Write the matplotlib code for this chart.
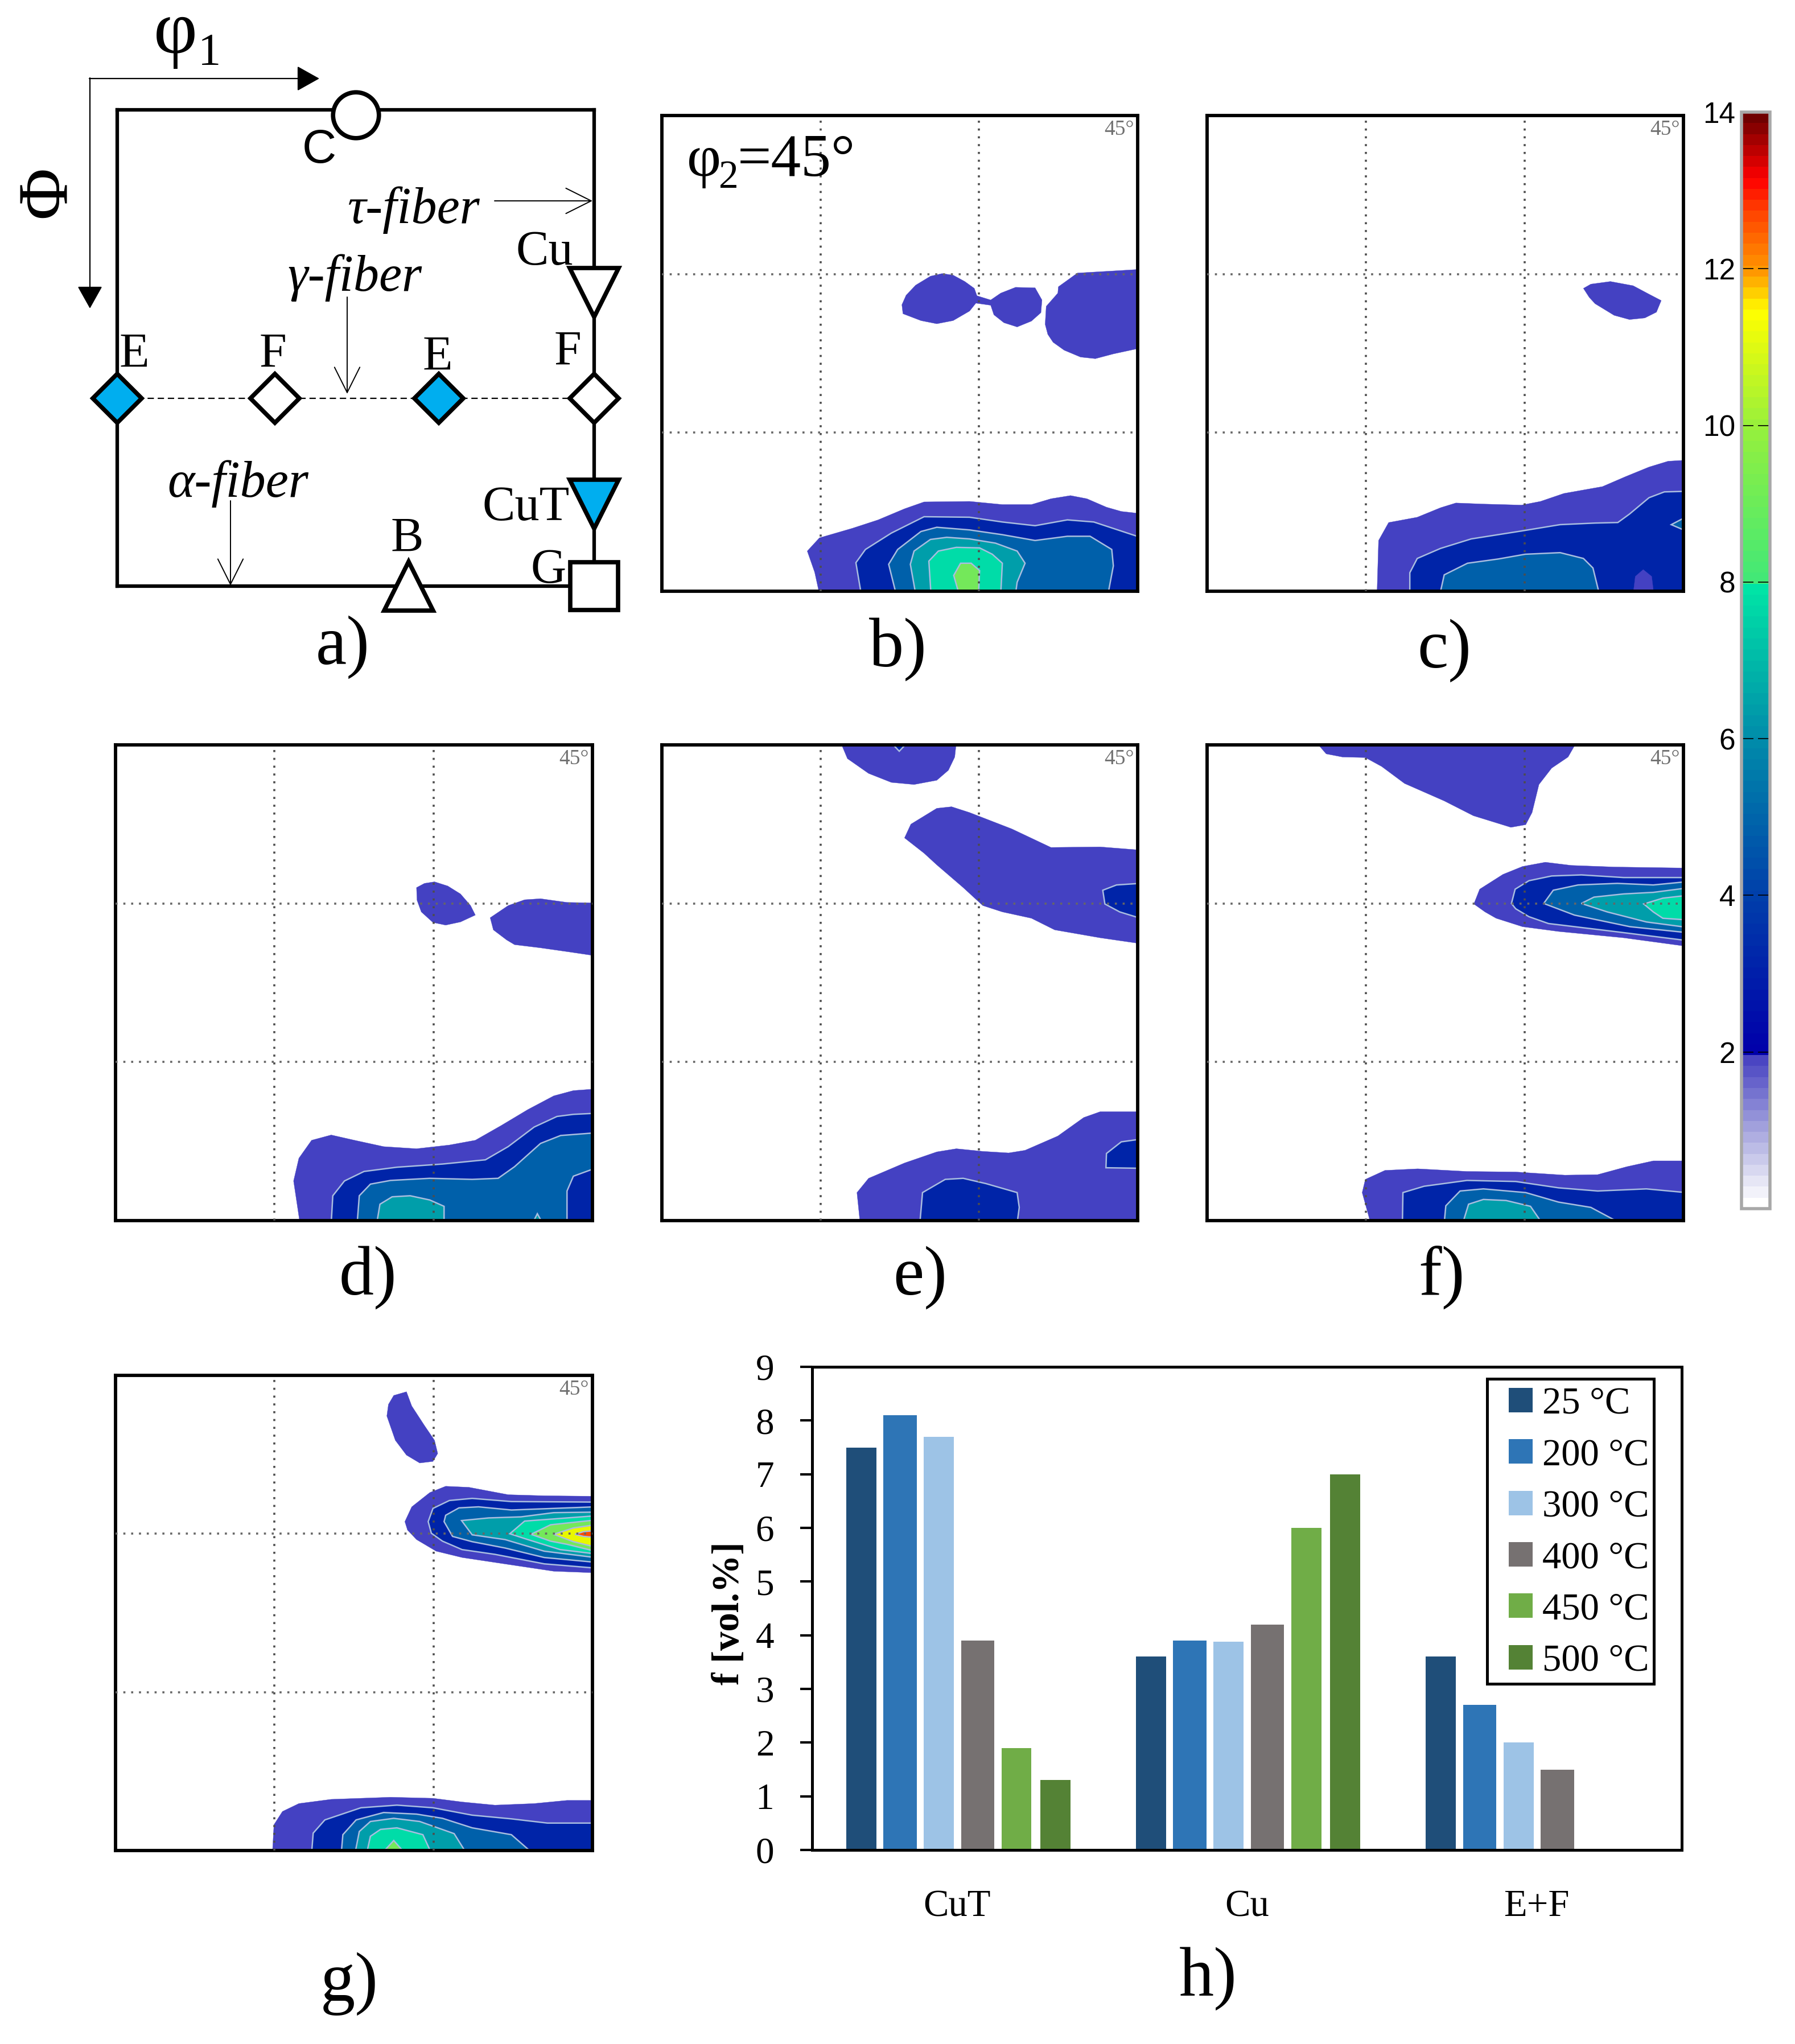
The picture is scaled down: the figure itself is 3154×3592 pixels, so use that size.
import numpy as np
import matplotlib
matplotlib.use("Agg")
import matplotlib.pyplot as plt
from matplotlib.cm import ScalarMappable
from matplotlib.colors import LinearSegmentedColormap, Normalize
from matplotlib.patches import Rectangle

plt.rcParams['font.family'] = ['Liberation Serif', 'DejaVu Serif']

W, H = 3154, 3592

# bar chart h), volume fractions
categories = ["CuT", "Cu", "E+F"]
temperatures = ["25 °C", "200 °C", "300 °C", "400 °C", "450 °C", "500 °C"]
f_25 = [7.5, 3.6, 3.6]
f_200 = [8.1, 3.9, 2.7]
f_300 = [7.7, 3.88, 2.0]
f_400 = [3.9, 4.2, 1.5]
f_450 = [1.9, 6.0, np.nan]
f_500 = [1.3, 7.0, np.nan]
bar_colors = ['#1f4e79', '#2e75b6', '#9dc3e6', '#767171', '#70ad47', '#548235']
bar_widths = [0.104, 0.115, 0.104, 0.115, 0.104, 0.104]

# ideal orientations in the phi2=45 section (phi1, Phi)
ori_open = {"C": (45, 1), "F1": (29.7, 54.5), "F2": (90, 54.5), "G": (90, 90)}
ori_E = [(0, 54.5), (60.7, 54.5)]
ori_Cu = (90, 34.5)
ori_CuT = (90, 74.5)
ori_B = (55, 90)

# contour colours, intensity level 1 upwards
level_colors = {1: '#4441c2', 2: '#0024a8', 3: '#0060aa', 4: '#009eaa',
                5: '#00dca8', 6: '#74e85a', 7: '#e8f800', 8: '#ff4a00'}

# ODF sections: (level, outline in phi1, Phi degrees)
panel_b = [
    (1, [(45.4, 35.8), (46.2, 34.0), (48.0, 32.1), (50.8, 30.4), (53.0, 29.9), (55.1, 30.2), (57.3, 31.4),
         (59.1, 32.7), (59.6, 34.1), (62.2, 34.9), (64.1, 33.6), (66.9, 32.5), (70.6, 32.6), (71.9, 34.9),
         (71.7, 37.3), (69.9, 38.9), (67.2, 40.0), (64.7, 39.2), (62.8, 37.7), (62.2, 35.9), (59.4, 35.5),
         (58.2, 37.0), (55.1, 38.8), (52.0, 39.4), (49.0, 38.8), (45.6, 37.5)]),
    (1, [(72.5, 39.5), (72.7, 36.1), (74.9, 33.6), (75.0, 32.4), (78.6, 29.8), (90.5, 29.1), (90.5, 44.0),
         (85.4, 45.1), (82.0, 46.0), (79.2, 45.7), (76.1, 44.4), (74.0, 42.9), (73.0, 41.4)]),
    (1, [(29.8, 90.5), (28.9, 86.4), (27.5, 82.4), (29.8, 79.9), (36.0, 78.1), (40.9, 76.5), (45.9, 74.4),
         (49.6, 73.1), (58.2, 73.0), (64.4, 73.6), (69.9, 73.6), (73.6, 72.5), (77.3, 71.9), (80.4, 72.5),
         (84.1, 74.1), (86.9, 74.9), (90.5, 75.3), (90.5, 90.5)]),
    (2, [(37.7, 90.5), (36.7, 84.6), (38.5, 82.1), (43.4, 79.0), (49.6, 75.9), (58.2, 76.0), (64.4, 76.9),
         (70.6, 77.6), (76.7, 76.5), (81.7, 76.9), (90.5, 79.8), (90.5, 90.5)]),
    (3, [(44.3, 90.5), (42.9, 84.9), (44.6, 82.1), (49.0, 78.7), (52.0, 77.9), (58.2, 78.4), (64.4, 79.3),
         (70.6, 80.4), (76.7, 79.6), (81.0, 79.6), (85.1, 82.1), (85.4, 85.2), (84.4, 90.5)]),
    (4, [(48.0, 90.5), (47.0, 84.9), (47.7, 82.4), (50.8, 80.2), (53.9, 79.8), (58.2, 80.1), (63.1, 80.9),
         (67.2, 82.4), (68.7, 84.7), (67.2, 88.3), (66.9, 90.5)]),
    (5, [(50.9, 90.5), (50.5, 84.3), (52.3, 82.4), (55.7, 81.7), (60.1, 81.8), (62.5, 83.0), (64.4, 84.7),
         (64.1, 90.5)]),
    (6, [(56.2, 90.5), (55.2, 87.0), (56.5, 84.7), (58.5, 84.7), (60.1, 86.1), (59.9, 90.5)]),
]

panel_c = [
    (1, [(71.1, 32.7), (72.5, 31.9), (76.2, 31.4), (80.5, 32.2), (83.5, 33.8), (85.8, 35.0), (84.9, 37.2),
         (82.7, 38.3), (79.8, 38.6), (76.9, 37.8), (73.3, 35.6), (72.2, 34.4)]),
    (1, [(32.1, 90.5), (32.4, 80.4), (34.3, 77.0), (39.7, 76.0), (44.1, 74.2), (47.0, 73.3), (52.1, 73.5),
         (59.4, 73.7), (63.0, 73.0), (67.4, 71.5), (74.7, 70.2), (79.1, 68.3), (83.5, 66.5), (87.1, 65.4),
         (90.5, 65.2), (90.5, 90.5)]),
    (2, [(38.3, 90.5), (38.3, 86.5), (39.7, 83.8), (44.1, 81.9), (49.9, 80.1), (59.4, 78.6), (66.7, 77.4),
         (73.3, 77.1), (77.6, 77.0), (79.8, 75.4), (83.5, 72.3), (86.4, 71.2), (90.5, 71.1), (90.5, 90.5)]),
    (3, [(44.0, 90.5), (44.8, 86.9), (49.2, 84.7), (55.0, 83.9), (60.1, 83.0), (66.7, 82.7), (71.1, 83.8),
         (72.9, 85.6), (74.1, 90.5)]),
    (3, [(87.7, 77.4), (89.8, 76.3), (90.5, 76.3), (90.5, 78.4), (89.8, 78.3)]),
    (1, [(80.5, 90.5), (80.9, 87.2), (82.4, 85.9), (84.0, 87.2), (84.4, 90.5)]),
]

panel_d = [
    (1, [(56.8, 27.0), (58.3, 26.2), (60.2, 25.9), (62.7, 26.7), (65.1, 28.2), (67.0, 30.4), (67.9, 32.2),
         (65.1, 33.5), (62.3, 34.1), (59.9, 33.6), (57.7, 31.6), (56.9, 29.4)]),
    (1, [(70.7, 32.7), (74.1, 30.4), (77.2, 29.3), (80.2, 29.1), (85.2, 29.8), (90.5, 29.9), (90.5, 39.9),
         (85.8, 39.2), (80.2, 38.4), (75.3, 37.8), (73.8, 36.9), (71.3, 35.0)]),
    (1, [(34.8, 90.5), (33.6, 82.5), (34.6, 78.2), (37.0, 74.8), (40.7, 73.8), (45.1, 74.8), (50.6, 76.0),
         (56.8, 76.4), (63.0, 75.7), (67.9, 74.8), (72.8, 72.0), (77.8, 69.0), (82.7, 66.4), (86.4, 65.4),
         (90.5, 65.1), (90.5, 90.5)]),
    (2, [(40.7, 90.5), (41.0, 85.3), (43.2, 82.5), (46.9, 80.7), (53.1, 79.9), (61.7, 79.3), (69.8, 78.5),
         (74.1, 76.0), (79.0, 72.3), (83.3, 70.3), (86.4, 69.9), (90.5, 69.7), (90.5, 90.5)]),
    (3, [(45.6, 90.5), (46.0, 85.3), (48.1, 83.1), (51.9, 82.4), (59.3, 82.0), (67.3, 82.2), (72.2, 82.0),
         (75.3, 79.8), (80.2, 75.4), (84.0, 73.9), (90.5, 73.4), (90.5, 90.5)]),
    (4, [(49.3, 90.5), (49.9, 86.9), (52.2, 85.5), (55.6, 85.3), (59.3, 86.1), (62.0, 87.3), (62.0, 90.5)]),
    (2, [(85.2, 90.5), (85.2, 84.4), (86.4, 81.6), (90.5, 80.1), (90.5, 90.5)]),
    (4, [(78.7, 90.5), (79.6, 88.7), (80.6, 90.5)]),
]

panel_e = [
    (1, [(33.8, -0.5), (35.1, 2.6), (39.1, 5.4), (43.4, 7.1), (47.7, 7.5), (52.0, 6.7), (54.2, 4.8),
         (55.4, 2.3), (55.7, -0.5)]),
    (2, [(43.3, -0.5), (44.9, 1.2), (46.5, -0.5)]),
    (1, [(45.9, 17.6), (47.1, 15.0), (52.0, 12.0), (54.8, 11.7), (58.2, 12.8), (66.2, 15.9), (73.6, 19.4),
         (82.9, 19.3), (90.5, 19.9), (90.5, 37.6), (82.9, 36.5), (74.3, 35.0), (69.9, 32.8), (64.4, 31.6),
         (60.7, 30.4), (57.0, 27.0), (52.0, 22.7), (49.6, 20.5)]),
    (2, [(83.4, 27.5), (86.0, 26.5), (90.5, 26.2), (90.5, 32.8), (86.6, 31.6), (83.8, 30.1)]),
    (1, [(37.5, 90.5), (36.9, 84.7), (39.1, 82.0), (45.9, 79.1), (52.0, 77.0), (55.7, 76.4), (60.7, 76.9),
         (65.6, 77.2), (68.7, 76.7), (74.9, 74.0), (79.8, 70.5), (82.9, 69.4), (90.5, 69.4), (90.5, 90.5)]),
    (2, [(48.8, 90.5), (49.3, 84.7), (53.6, 82.2), (57.0, 82.0), (61.3, 83.0), (67.2, 84.7), (67.6, 87.5),
         (67.2, 90.5)]),
    (2, [(84.0, 80.0), (84.1, 77.3), (86.9, 75.1), (90.5, 74.6), (90.5, 80.1)]),
]

panel_f = [
    (1, [(20.6, -0.5), (22.5, 1.7), (25.6, 2.3), (29.9, 2.4), (33.0, 4.1), (37.3, 7.3), (44.8, 10.6),
         (50.3, 13.4), (57.4, 15.6), (60.2, 15.1), (61.4, 12.8), (62.7, 7.5), (65.1, 4.4), (68.2, 2.3),
         (69.8, -0.5)]),
    (1, [(50.4, 30.1), (51.5, 27.3), (55.9, 24.5), (59.6, 23.0), (63.9, 22.2), (68.8, 22.8), (76.9, 23.1),
         (90.5, 23.3), (90.5, 38.1), (78.7, 36.5), (66.4, 35.3), (59.6, 34.4), (54.6, 32.8), (52.5, 31.6)]),
    (2, [(57.5, 30.0), (58.2, 27.3), (60.8, 25.7), (65.1, 24.8), (70.7, 24.6), (78.7, 25.1), (90.5, 25.1),
         (90.5, 37.0), (76.9, 35.3), (64.5, 33.8), (60.8, 32.5), (58.3, 31.0)]),
    (3, [(63.6, 30.0), (65.4, 27.5), (70.1, 26.5), (77.5, 26.2), (84.3, 26.5), (90.5, 25.9), (90.5, 35.5),
         (79.9, 34.4), (69.4, 32.2)]),
    (4, [(70.7, 30.0), (73.1, 28.8), (78.7, 28.2), (84.3, 27.9), (90.5, 27.1), (90.5, 34.5), (83.0, 33.5),
         (75.6, 31.6)]),
    (5, [(82.5, 30.1), (86.1, 29.0), (90.5, 28.5), (90.5, 33.1), (86.1, 32.8), (84.3, 31.6)]),
    (1, [(30.9, 90.5), (29.3, 84.7), (29.9, 82.2), (33.6, 80.5), (39.8, 80.2), (49.1, 80.7), (58.3, 80.8),
         (67.6, 81.4), (73.8, 81.3), (79.3, 79.8), (84.3, 78.7), (90.5, 78.7), (90.5, 90.5)]),
    (2, [(36.9, 90.5), (37.0, 84.7), (41.0, 83.5), (49.1, 82.4), (58.3, 82.6), (66.4, 83.8), (73.8, 84.4),
         (83.0, 84.0), (90.5, 84.7), (90.5, 90.5)]),
    (3, [(44.8, 90.5), (45.1, 87.2), (47.8, 84.4), (52.2, 84.0), (60.2, 84.7), (66.4, 86.5), (72.5, 87.5),
         (78.1, 90.5)]),
    (4, [(48.3, 90.5), (49.4, 86.9), (52.2, 86.0), (56.5, 86.2), (61.1, 87.3), (63.3, 90.5)]),
]

panel_g = [
    (1, [(52.5, 3.8), (54.9, 3.1), (55.9, 5.8), (58.3, 9.5), (60.2, 12.3), (60.8, 14.8), (59.9, 16.3),
         (57.4, 16.6), (54.9, 15.1), (52.8, 12.3), (51.2, 7.7), (51.5, 5.5)]),
    (1, [(54.6, 27.7), (55.9, 24.9), (59.3, 22.2), (62.3, 21.0), (66.7, 21.2), (74.1, 22.6), (80.9, 22.8),
         (90.5, 22.9), (90.5, 37.4), (82.7, 37.1), (74.7, 35.9), (65.4, 34.5), (60.5, 33.3), (56.8, 31.1),
         (55.1, 29.3)]),
    (2, [(59.0, 27.7), (59.9, 25.2), (63.0, 23.7), (67.3, 23.3), (74.7, 23.9), (90.5, 24.0), (90.5, 36.5),
         (80.9, 35.7), (71.6, 33.9), (65.4, 33.0), (61.7, 31.4), (59.6, 29.9)]),
    (3, [(62.0, 27.7), (62.3, 26.5), (64.8, 25.1), (68.5, 24.9), (74.7, 25.5), (90.5, 24.9), (90.5, 35.4),
         (80.9, 34.5), (73.5, 32.7), (67.3, 31.5), (63.6, 30.5)]),
    (4, [(65.3, 27.5), (70.4, 27.0), (76.5, 26.8), (82.7, 26.0), (90.5, 25.9), (90.5, 34.5), (80.9, 33.3),
         (73.5, 31.1), (67.3, 30.2)]),
    (5, [(74.4, 30.0), (77.2, 27.6), (83.9, 27.1), (90.5, 26.6), (90.5, 33.8), (83.9, 33.0), (77.8, 31.1)]),
    (6, [(78.4, 30.1), (82.1, 28.3), (90.5, 27.4), (90.5, 33.3), (85.2, 32.0), (82.1, 31.4)]),
    (7, [(82.7, 30.1), (86.4, 28.9), (90.5, 28.3), (90.5, 32.5), (86.4, 31.5)]),
    (8, [(86.7, 30.1), (88.3, 29.6), (90.5, 29.4), (90.5, 30.7), (88.3, 30.5)]),
    (1, [(29.6, 90.5), (29.9, 85.1), (31.5, 82.6), (34.6, 81.1), (40.7, 80.3), (51.9, 79.9), (59.9, 80.1),
         (65.4, 80.8), (71.6, 81.4), (79.0, 81.1), (85.2, 80.5), (90.5, 80.5), (90.5, 90.5)]),
    (2, [(37.0, 90.5), (37.3, 86.7), (39.5, 84.2), (46.3, 81.9), (53.1, 81.4), (59.9, 81.9), (67.3, 83.3),
         (74.7, 84.0), (81.5, 84.8), (90.5, 84.8), (90.5, 90.5)]),
    (3, [(42.6, 90.5), (42.9, 87.0), (45.4, 84.2), (50.6, 82.8), (56.8, 83.1), (61.7, 83.9), (67.3, 85.7),
         (74.7, 87.0), (78.7, 90.5)]),
    (4, [(45.2, 90.5), (46.0, 86.4), (48.1, 84.5), (52.5, 83.9), (57.4, 84.5), (63.9, 86.8), (66.2, 90.5)]),
    (5, [(47.4, 90.5), (48.1, 87.3), (50.0, 86.0), (53.1, 85.7), (58.0, 87.0), (59.6, 90.5)]),
    (6, [(50.3, 90.5), (52.5, 88.1), (54.6, 90.5)]),
]

# colour scale stops (value, colour)
scale_stops = [(0, '#ffffff'), (0.3, '#e4e4f4'), (1.0, '#a09fdc'), (1.97, '#3c37be'), (1.98, '#0000aa'),
               (4, '#0040aa'), (6, '#008caa'), (7.97, '#00e6a6'), (8.0, '#40e878'), (10, '#96f03c'),
               (11.5, '#ffff00'), (12, '#ff9a00'), (12.8, '#ff4000'), (13.2, '#ff0000'), (13.6, '#b80000'),
               (14, '#700000')]


def px_axes(x0, y0, x1, y1):
    return fig.add_axes([x0 / W, 1 - y1 / H, (x1 - x0) / W, (y1 - y0) / H])


def odf_panel(box, polygons):
    ax = px_axes(*box)
    ax.set_xlim(0, 90)
    ax.set_ylim(90, 0)
    for level, outline in polygons:
        edge = level_colors[level] if level == 1 else '#a9bde0'
        ax.fill(*zip(*outline), facecolor=level_colors[level], edgecolor=edge,
                linewidth=0.3 if level == 1 else 1.8, zorder=1)
    ax.set_xticks([30, 60])
    ax.set_yticks([30, 60])
    ax.tick_params(length=0, labelbottom=False, labelleft=False)
    ax.set_axisbelow(False)
    ax.xaxis.grid(True, color=(0.3, 0.3, 0.3, 0.3), linewidth=2.6, linestyle=(0, (1, 2.8)))
    ax.yaxis.grid(True, color=(0.4, 0.4, 0.4, 0.14), linewidth=2.6, linestyle=(0, (1, 2.8)))
    for sp in ax.spines.values():
        sp.set_linewidth(4.2)
    ax.text(0.992, 0.97, "45°", transform=ax.transAxes, ha='right', va='center', fontsize=27, color='#707070')
    return ax


fig = plt.figure(figsize=(W / 100, H / 100), dpi=100, facecolor='white')

# schematic a)
ax_a = px_axes(206, 193, 1044, 1030)
ax_a.set_xlim(0, 90)
ax_a.set_ylim(90, 0)
ax_a.set_xticks([])
ax_a.set_yticks([])
for sp in ax_a.spines.values():
    sp.set_linewidth(4.5)
ax_a.plot([0, 90], [54.5, 54.5], color='black', linewidth=1.6, linestyle=(0, (5, 3)), zorder=3)
mk = dict(linestyle='none', markeredgecolor='black', markeredgewidth=5.5, clip_on=False, zorder=5)
ax_a.plot(*ori_open["C"], marker='o', markersize=58, markerfacecolor='white', **mk)
for key in ["F1", "F2"]:
    ax_a.plot(*ori_open[key], marker='D', markersize=44, markerfacecolor='white', **mk)
ax_a.plot(*ori_open["G"], marker='s', markersize=60, markerfacecolor='white', **mk)
for e in ori_E:
    ax_a.plot(*e, marker='D', markersize=44, markerfacecolor='#00aeef', **mk)
ax_a.plot(*ori_Cu, marker='v', markersize=62, markerfacecolor='white', **mk)
ax_a.plot(*ori_CuT, marker='v', markersize=62, markerfacecolor='#00aeef', **mk)
ax_a.plot(*ori_B, marker='^', markersize=62, markerfacecolor='white', **mk)

# ODF sections
odf_panel((1163, 203, 1999, 1039), panel_b)
odf_panel((2121, 203, 2958, 1039), panel_c)
odf_panel((203, 1309, 1041, 2145), panel_d)
odf_panel((1163, 1309, 1999, 2145), panel_e)
odf_panel((2121, 1309, 2958, 2145), panel_f)
odf_panel((203, 2417, 1041, 3252), panel_g)

# colour scale
scale_cmap = LinearSegmentedColormap.from_list(
    "odf", [(v / 14, c) for v, c in scale_stops], N=100)
cax = px_axes(3060, 197, 3110, 2124)
cb = fig.colorbar(ScalarMappable(Normalize(0, 14), scale_cmap), cax=cax, ticks=[2, 4, 6, 8, 10, 12, 14])
cb.outline.set_edgecolor('#a8a8a8')
cb.outline.set_linewidth(4)
cax.tick_params(axis='y', left=True, right=True, labelleft=True, labelright=False, direction='in',
                length=15, width=1.2, pad=8, labelsize=37, labelfontfamily='Liberation Sans')
cax.minorticks_off()

# bar chart h)
ax_h = px_axes(1427, 2402, 2955, 3251)
series = [f_25, f_200, f_300, f_400, f_450, f_500]
xpos = np.arange(len(categories))
bars = []
for i, values in enumerate(series):
    bars.append(ax_h.bar(xpos + 0.004 + (i - 2.5) * 0.1339, values, width=bar_widths[i], color=bar_colors[i],
                         label=temperatures[i]))
ax_h.set_xlim(-0.5, 2.5)
ax_h.set_ylim(0, 9)
ax_h.set_yticks(range(10))
ax_h.set_xticks(xpos)
ax_h.set_xticklabels(categories)
ax_h.tick_params(axis='x', length=0, pad=50, labelsize=48)
ax_h.tick_params(axis='y', length=15, width=3, pad=33, labelsize=47)
for sp in ax_h.spines.values():
    sp.set_linewidth(3.6)
ax_h.set_ylabel("f [vol.%]", fontsize=48, fontweight='bold')
ax_h.yaxis.set_label_coords(-0.075, 0.49)
ax_h.legend(loc='upper left', bbox_to_anchor=(2651 / W, 1 - 2437 / H), bbox_transform=fig.transFigure,
            borderaxespad=0, fontsize=48, frameon=False, handlelength=0.63, handleheight=0.62,
            handletextpad=0.255, labelspacing=0.44, borderpad=0)

# text and arrows laid over everything, in picture pixels
page = fig.add_axes([0, 0, 1, 1], zorder=10)
page.set_xlim(0, W)
page.set_ylim(H, 0)
page.axis('off')
page.patch.set_alpha(0)

page.add_patch(Rectangle((2613, 2423), 293, 536, fill=False, edgecolor='black', linewidth=3.6))

for label, x, y in [("a)", 602, 1137), ("b)", 1578, 1141), ("c)", 2538, 1143), ("d)", 646, 2245),
                    ("e)", 1617, 2245), ("f)", 2533, 2245), ("g)", 614, 3486), ("h)", 2123, 3477)]:
    page.text(x, y, label, ha='center', va='center', fontsize=88)

for label, x, y in [("E", 236, 624), ("F", 480, 624), ("E", 769, 629), ("F", 997, 620), ("Cu", 957, 444),
                    ("CuT", 924, 893), ("B", 715, 948), ("G", 964, 1003)]:
    page.text(x, y, label, ha='center', va='center', fontsize=62)
page.text(561, 264, "C", ha='center', va='center', fontsize=60, family='Liberation Sans')

for label, x, y in [("τ-fiber", 726, 369), ("γ-fiber", 623, 488), ("α-fiber", 418, 850)]:
    page.text(x, y, label, ha='center', va='center', fontsize=65, style='italic')

page.text(308, 93, "φ", ha='center', va='baseline', fontsize=96)
page.text(368, 114, "1", ha='center', va='baseline', fontsize=58)
page.text(86, 337, "Φ", ha='center', va='center', fontsize=90, rotation=90)

page.text(1207, 309, "φ", ha='left', va='baseline', fontsize=75)
page.text(1263, 330, "2", ha='left', va='baseline', fontsize=50)
page.text(1296, 309, "=45°", ha='left', va='baseline', fontsize=76)

solid_head = dict(arrowstyle='-|>,head_length=25,head_width=14', color='black', linewidth=1.6,
                  shrinkA=0, shrinkB=0, mutation_scale=1)
open_head = dict(arrowstyle='->,head_length=32,head_width=16', color='black', linewidth=1.4,
                 shrinkA=0, shrinkB=0, mutation_scale=1)
page.annotate('', xy=(561, 138), xytext=(157, 138), arrowprops=solid_head)
page.annotate('', xy=(158, 542), xytext=(158, 137), arrowprops=solid_head)
page.annotate('', xy=(1041, 353), xytext=(869, 353), arrowprops=open_head)
page.annotate('', xy=(610, 692), xytext=(610, 522), arrowprops=open_head)
page.annotate('', xy=(405, 1029), xytext=(405, 880), arrowprops=open_head)

plt.savefig('out.png', dpi=100)
